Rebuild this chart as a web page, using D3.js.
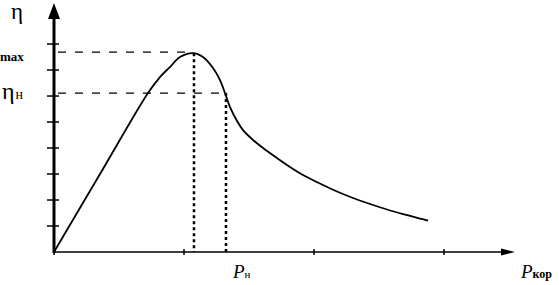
<!DOCTYPE html>
<html><head><meta charset="utf-8">
<script src="https://cdn.jsdelivr.net/npm/d3@7"></script>
<style>body{margin:0;background:#fff}svg{display:block}</style>
</head><body>
<script>
// Data (abstract units: P along x, eta along y)
const curveP   = [0, 0.354, 0.723, 0.815, 0.892, 0.969, 1.069, 1.146, 1.223, 1.277, 1.315, 1.354, 1.408, 1.454, 1.531, 1.608, 1.715, 1.815, 1.915, 2.023, 2.177, 2.3, 2.431, 2.562, 2.685, 2.815, 2.877];
const curveEta = [0, 3.0, 6.115, 6.73, 7.115, 7.5, 7.65, 7.5, 7.077, 6.615, 6.115, 5.577, 5.04, 4.69, 4.31, 4.0, 3.615, 3.27, 2.96, 2.69, 2.327, 2.077, 1.846, 1.635, 1.46, 1.288, 1.21];
const etaMax = 7.65, pMax = 1.069;
const etaN = 6.115, pN = 1.315;
const yTicks = [1, 2, 3, 4, 5, 6, 7, 8];
const xTicks = [0, 1, 2, 3];

const W = 559, H = 285;
const x = d3.scaleLinear().domain([0, 3.546]).range([54, 515]);
const y = d3.scaleLinear().domain([0, 9.54]).range([252, 4]);

const svg = d3.select("body").append("svg").attr("width", W).attr("height", H);
const serif = "'Liberation Serif','DejaVu Serif',serif";

// x axis
svg.append("line").attr("x1", x(0)).attr("x2", x(3.546) - 4).attr("y1", y(0)).attr("y2", y(0))
  .attr("stroke", "#000").attr("stroke-width", 1.5);
svg.append("path").attr("d", `M${x(3.546)},${y(0)} L${x(3.546)-14},${y(0)-3.5} L${x(3.546)-14},${y(0)+3.5} Z`).attr("fill", "#000");
xTicks.forEach(t => {
  svg.append("line").attr("x1", x(t)).attr("x2", x(t)).attr("y1", y(0) - 3).attr("y2", y(0) + 3)
    .attr("stroke", "#000").attr("stroke-width", 1.5);
});

// y axis
svg.append("line").attr("x1", x(0)).attr("x2", x(0)).attr("y1", y(0) + 1).attr("y2", y(9.54) + 8)
  .attr("stroke", "#000").attr("stroke-width", 3);
svg.append("path").attr("d", `M${x(0)},${y(9.54)-1} L${x(0)-6},${y(9.54)+15} L${x(0)+6},${y(9.54)+15} Z`).attr("fill", "#000");
yTicks.forEach(t => {
  svg.append("line").attr("x1", x(0) - 7).attr("x2", x(0) + 5).attr("y1", y(t)).attr("y2", y(t))
    .attr("stroke", "#000").attr("stroke-width", 1.5);
});

// dashed horizontals
svg.append("line").attr("x1", x(0) + 4).attr("x2", x(pMax)).attr("y1", y(etaMax + 0.04)).attr("y2", y(etaMax + 0.04))
  .attr("stroke", "#000").attr("stroke-width", 1.2).attr("stroke-dasharray", "8,9");
svg.append("line").attr("x1", x(0) + 4).attr("x2", x(pN)).attr("y1", y(etaN)).attr("y2", y(etaN))
  .attr("stroke", "#000").attr("stroke-width", 1.2).attr("stroke-dasharray", "8,9");

// dotted verticals
svg.append("line").attr("x1", x(pMax) + 1).attr("x2", x(pMax) + 1).attr("y1", y(etaMax)).attr("y2", y(0))
  .attr("stroke", "#000").attr("stroke-width", 2.5).attr("stroke-dasharray", "3,3");
svg.append("line").attr("x1", x(pN) + 1).attr("x2", x(pN) + 1).attr("y1", y(etaN)).attr("y2", y(0))
  .attr("stroke", "#000").attr("stroke-width", 2.5).attr("stroke-dasharray", "3,3");

// curve
const pts = curveP.map((p, i) => [p, curveEta[i]]);
svg.append("path").datum(pts)
  .attr("d", d3.line().x(d => x(d[0])).y(d => y(d[1])).curve(d3.curveCatmullRom.alpha(0.5)))
  .attr("fill", "none").attr("stroke", "#000").attr("stroke-width", 1.8);

// labels
svg.append("text").attr("x", 11).attr("y", 19).attr("font-family", serif).attr("font-size", 23).text("η");
svg.append("text").attr("x", 0).attr("y", 61).attr("font-family", serif).attr("font-size", 13).attr("font-weight", "bold").text("max");
const tn = svg.append("text").attr("x", 2).attr("y", 99).attr("font-family", serif).attr("font-size", 24);
tn.append("tspan").text("η");
tn.append("tspan").attr("font-size", 14).attr("dx", 1).text("н");

const pn = svg.append("text").attr("x", 233).attr("y", 278).attr("font-family", serif).attr("font-style", "italic").attr("font-size", 19);
pn.append("tspan").text("P");
pn.append("tspan").attr("font-size", 11).attr("font-style", "normal").text("н");
const pk = svg.append("text").attr("x", 521).attr("y", 278).attr("font-family", serif).attr("font-style", "italic").attr("font-size", 19);
pk.append("tspan").text("P");
pk.append("tspan").attr("font-size", 12).attr("font-style", "normal").attr("font-weight", "bold").text("кор");
</script>
</body></html>
